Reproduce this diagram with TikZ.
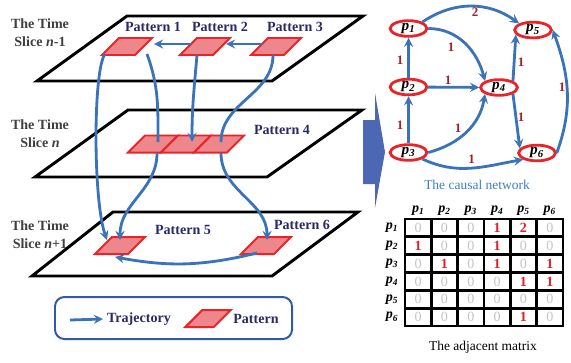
\documentclass[tikz,border=0pt]{standalone}
\usepackage{fontspec}
\setmainfont{Liberation Serif}
\usepackage{tikz}
\usetikzlibrary{shapes,arrows,positioning,calc,shapes.geometric}
\usepackage{xcolor}

\definecolor{trajblue}{RGB}{59,115,185}
\definecolor{patred}{RGB}{232,36,40}
\definecolor{patpink}{RGB}{238,135,140}
\definecolor{navy}{RGB}{40,42,100}
\definecolor{slicegrey}{RGB}{64,64,64}
\definecolor{chevron}{RGB}{76,104,180}
\definecolor{legendblue}{RGB}{52,88,168}
\definecolor{wtred}{RGB}{160,32,40}
\definecolor{mred}{RGB}{226,32,40}
\definecolor{mgrey}{RGB}{196,196,196}
\definecolor{netblue}{RGB}{60,125,200}

\newcommand{\pn}[1]{\textbf{\textit{p\textsubscript{#1}}}}

\begin{document}
\begin{tikzpicture}[x=0.03cm, y=0.03cm,
    plane/.style={draw=black, line width=2.5pt},
    patcell/.style={trapezium, trapezium left angle=45, trapezium right angle=135, draw=patred, fill=patpink, line width=1.7pt, inner xsep=0.24cm, inner ysep=0.255cm},
    trajline/.style={draw=trajblue, line width=2.4pt},
    traj/.style={trajline, ->, >=stealth},
    slicetext/.style={text=slicegrey, font=\bfseries\fontsize{12}{15.3}\selectfont, align=center},
    pattext/.style={text=navy, font=\bfseries\fontsize{12}{14}\selectfont},
    pnode/.style={ellipse, draw=patred, fill=white, line width=2.4pt, minimum width=1.1cm, minimum height=0.47cm, inner sep=0pt, font=\fontsize{13}{15}\selectfont},
    arrow/.style={->, >=stealth, draw=trajblue, line width=2.4pt},
    weight/.style={text=wtred, inner sep=1pt, font=\bfseries\fontsize{11}{13}\selectfont},
    cell/.style={draw=black, line width=2.4pt, minimum width=0.79cm, minimum height=0.535cm, inner sep=0pt, font=\fontsize{12}{14}\selectfont},
    caption/.style={font=\fontsize{11.5}{13}\selectfont}
]
\useasboundingbox (0,0) rectangle (571,-362);

\draw[plane] (127,-16) -- (363,-16) -- (272,-81) -- (37,-81) -- cycle;
\draw[plane] (128,-110) -- (362,-110) -- (267,-177) -- (35,-177) -- cycle;
\draw[plane] (113,-212) -- (358,-212) -- (272,-276) -- (32,-276) -- cycle;

\node[slicetext] (slice1) at (40,-33) {The Time\\Slice \textit{n}-1};
\node[slicetext] (slice2) at (40,-134) {The Time\\Slice \textit{n}};
\node[slicetext] (slice3) at (40,-235) {The Time\\Slice \textit{n}+1};

\node[patcell] (pat1) at (127,-46.5) {};
\node[patcell] (pat2) at (205,-46.5) {};
\node[patcell] (pat3) at (276,-46.5) {};
\node[patcell] (pat4a) at (153,-144) {};
\node[patcell] (pat4b) at (186,-144) {};
\node[patcell] (pat4c) at (219,-144) {};
\node[patcell] (pat5) at (120,-245.5) {};
\node[patcell] (pat6) at (266,-245.5) {};

\node[pattext] (lab1) at (153,-27) {Pattern 1};
\node[pattext] (lab2) at (220,-27) {Pattern 2};
\node[pattext] (lab3) at (295,-27) {Pattern 3};
\node[pattext] (lab4) at (282,-130) {Pattern 4};
\node[pattext] (lab5) at (183,-230) {Pattern 5};
\node[pattext] (lab6) at (302,-225) {Pattern 6};

\draw[traj] ($(pat3)+(-13,2.5)$) -- ($(pat2)+(21,2.5)$);
\draw[traj] ($(pat2)+(-14,2.5)$) -- ($(pat1)+(27,2.5)$);
\draw[traj] ($(pat1)+(-22,-7.5)$) .. controls (93,-70) and (93,-200) .. ($(pat5)+(-13,5.5)$);
\draw[trajline] ($(pat1)+(20,-7.5)$) to[out=-70,in=90] ($(pat4a)+(5,2)$);
\draw[traj] ($(pat2)+(-8,-8.5)$) to[out=-95,in=90] ($(pat4b)+(6,2)$);
\draw[trajline] ($(pat3)+(-3,-8.5)$) to[out=-90,in=90] ($(pat4c)+(2,2)$);
\draw[traj] ($(pat4a)+(4,-9)$) to[out=-90,in=90] ($(pat5)+(0,5.5)$);
\draw[traj] ($(pat4c)+(2,-9)$) to[out=-90,in=90] ($(pat6)+(1,5.5)$);
\draw[traj] ($(pat6)+(-9,-7.5)$) to[bend left=12] ($(pat5)+(-5,-11.5)$);

\node[draw=legendblue, line width=1.7pt, rounded corners=8pt, minimum width=7.11cm, minimum height=1.26cm] (legend) at (173.5,-318) {};
\node[pattext] (ltraj) at (139,-319) {Trajectory};
\coordinate (lstart) at (70,-320);
\draw[traj] (lstart) -- (ltraj.west);
\node[patcell, inner xsep=0.17cm] (lpat) at (208,-318.5) {};
\node[pattext] (lpattern) at (256,-319) {Pattern};

\fill[chevron] (363,-120) -- (375,-120) -- (375,-93) -- (385,-152) -- (375,-208) -- (375,-184) -- (363,-184) -- cycle;

\node[pnode] (p1) at (408.5,-28.5) {\pn{1}};
\node[pnode] (p2) at (408.5,-87) {\pn{2}};
\node[pnode] (p3) at (408.5,-152.5) {\pn{3}};
\node[pnode] (p4) at (499,-87.5) {\pn{4}};
\node[pnode] (p5) at (533,-30) {\pn{5}};
\node[pnode] (p6) at (537,-153) {\pn{6}};

\draw[arrow] (p1.north east) to[bend left=35] node[weight, xshift=3.4pt, yshift=-5.1pt] {2} (p5.north west);
\draw[arrow] (p1.east) to[out=0,in=105] node[weight, xshift=-11.9pt, yshift=-2.9pt] {1} (p4.north west);
\draw[arrow] (p2) -- node[weight, xshift=-7.2pt, yshift=-2pt] {1} (p1);
\draw[arrow] (p2) -- node[weight, xshift=-4.9pt, yshift=6.2pt] {1} (p4);
\draw[arrow] (p3) -- node[weight, xshift=-7.2pt, yshift=-4.5pt] {1} (p2);
\draw[arrow] (p3.east) to[out=15,in=-100] node[weight, xshift=-6.8pt, yshift=3.4pt] {1} (p4.south west);
\draw[arrow] (p3.south east) to[out=-25,in=190] node[weight, yshift=7.3pt] {1} (p6.south west);
\draw[arrow] (p4.north east) -- node[weight, xshift=5.7pt, yshift=-3.7pt] {1} (p5.195);
\draw[arrow] (p4.south east) -- node[weight, xshift=4pt, yshift=3.8pt] {1} (p6.165);
\draw[arrow] (p6.east) to[out=70,in=-70] node[weight, xshift=-4.3pt, yshift=3.8pt] {1} (p5.east);

\node[caption, text=netblue] (netcap) at (477,-185) {The causal network};

\foreach \col in {1,...,6}
  \node[font=\fontsize{12}{14}\selectfont] (head\col) at ({405+26.333*(\col-0.5)},-211) {\pn{\col}};
\foreach \vals [count=\row] in {{0,0,0,1,2,0},{1,0,0,1,0,0},{0,1,0,1,0,1},{0,0,0,0,1,1},{0,0,0,0,0,0},{0,0,0,0,1,0}} {
  \node[font=\fontsize{12}{14}\selectfont] (rowlab\row) at (392,{-219-17.833*(\row-0.5)}) {\pn{\row}};
  \foreach \v [count=\col] in \vals {
    \ifnum\v=0\relax
      \node[cell, text=mgrey] (cell-\row-\col) at ({405+26.333*(\col-0.5)},{-219-17.833*(\row-0.5)}) {0};
    \else
      \node[cell, text=mred, font=\bfseries\fontsize{12}{14}\selectfont] (cell-\row-\col) at ({405+26.333*(\col-0.5)},{-219-17.833*(\row-0.5)}) {\v};
    \fi
  }
}
\node[caption] (matcap) at (483,-347) {The adjacent matrix};

\end{tikzpicture}
\end{document}
